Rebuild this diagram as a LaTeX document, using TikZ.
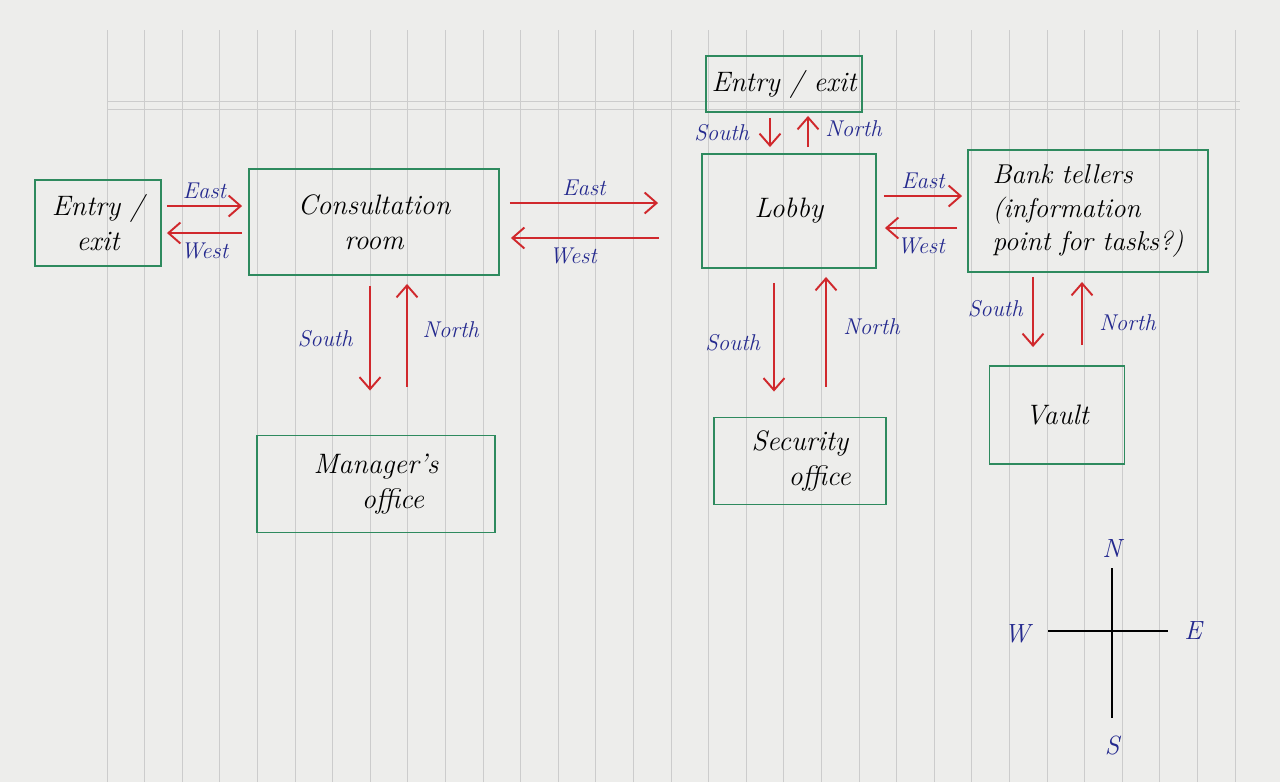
\documentclass[tikz,border=0pt]{standalone}
\usepackage{tikz}
\usetikzlibrary{arrows.meta}
\usetikzlibrary{calc}
\definecolor{boxgreen}{HTML}{2E8A5E}
\definecolor{arrred}{HTML}{D0282C}
\definecolor{inkblue}{HTML}{24298E}
\definecolor{paper}{HTML}{EDEDEB}
\tikzset{room/.style = {draw=boxgreen, line width=1.1pt, inner sep=0, align=center,
    font=\fontsize{16}{20}\selectfont\itshape}}
\tikzset{move/.style = {draw=arrred, line width=1.1pt, -{Straight Barb[length=2.4mm, width=4.2mm]}}}
\tikzset{dir/.style = {text=inkblue, font=\fontsize{13}{15}\selectfont\itshape}}
\tikzset{pt/.style = {text=inkblue, font=\fontsize{15}{18}\selectfont\itshape}}

\begin{document}
\begin{tikzpicture}[x=0.02cm, y=-0.02cm]
      \useasboundingbox (0,0) rectangle (1280,782);
      \fill [paper] (0,0) rectangle (1280,782);
      \foreach \i in {0,...,30}
        \draw [gray!40, line width=0.4pt] (107+37.6*\i,30) -- (107+37.6*\i,782);
      \draw [gray!40, line width=0.4pt] (107,101) -- (1240,101);
      \draw [gray!40, line width=0.4pt] (107,109) -- (1240,109);

      \node [room, minimum width=2.52cm, minimum height=1.72cm] (entryW) at (98,223) {Entry /\\exit};
      \node [room, minimum width=5cm, minimum height=2.12cm] (consult) at (374,222) {Consultation\\room};
      \node [room, minimum width=3.12cm, minimum height=1.12cm] (entryN) at (784,84) {Entry / exit};
      \node [room, minimum width=3.48cm, minimum height=2.28cm] (lobby) at (789,211) {Lobby};
      \node [room, minimum width=4.8cm, minimum height=2.44cm, align=left,
        font=\fontsize{15.5}{19}\selectfont\itshape] (bank) at (1088,211)
        {Bank tellers\\(information\\point for tasks?)};
      \node [room, minimum width=4.76cm, minimum height=1.94cm] (mgr) at (376,484) {Manager's\\\hspace*{1.2em}office};
      \node [room, minimum width=3.44cm, minimum height=1.74cm] (sec) at (800,461) {Security\\\hspace*{1.4em}office};
      \node [room, minimum width=2.7cm, minimum height=1.96cm] (vault) at (1057,415) {Vault};

      \draw [move] ($(entryW.east)+(5,-17)$) -- node [dir, above=0pt] {East} ($(entryW.east -| consult.west)+(-6,-17)$);
      \draw [move] ($(entryW.east -| consult.west)+(-6,10)$) -- node [dir, below=2pt] {West} ($(entryW.east)+(5,10)$);

      \draw [move] ($(consult.east)+(10,-19)$) -- node [dir, above=0pt] {East} ($(consult.east -| lobby.west)+(-43,-19)$);
      \draw [move] ($(consult.east -| lobby.west)+(-42,16)$) -- node [dir, below=2pt, pos=0.58] {West} ($(consult.east)+(11,16)$);

      \draw [move] ($(consult.south)+(-4,10)$) -- node [dir, left=6pt] {South} ($(consult.south |- mgr.north)+(-4,-44)$);
      \draw [move] ($(consult.south |- mgr.north)+(33,-48)$) -- node [dir, right=5pt, pos=0.55] {North} ($(consult.south)+(33,8)$);

      \draw [move] ($(entryN.south)+(-14,5)$) -- node [dir, left=8pt] {South} ($(entryN.south |- lobby.north)+(-14,-6)$);
      \draw [move] ($(entryN.south |- lobby.north)+(24,-6)$) -- node [dir, right=6pt, pos=0.6] {North} ($(entryN.south)+(24,3)$);

      \draw [move] ($(lobby.south)+(-15,14)$) -- node [dir, left=4pt, pos=0.55] {South} ($(lobby.south |- sec.north)+(-15,-25)$);
      \draw [move] ($(lobby.south |- sec.north)+(37,-30)$) -- node [dir, right=6pt, pos=0.55] {North} ($(lobby.south)+(37,8)$);

      \draw [move] ($(lobby.east)+(7,-15)$) -- node [dir, above=0pt] {East} ($(lobby.east -| bank.west)+(-5,-15)$);
      \draw [move] ($(lobby.east -| bank.west)+(-10,17)$) -- node [dir, below=2pt] {West} ($(lobby.east)+(8,17)$);

      \draw [move] ($(bank.south)+(-55,4)$) -- node [dir, left=2pt, pos=0.45] {South} ($(bank.south |- vault.north)+(-55,-18)$);
      \draw [move] ($(bank.south |- vault.north)+(-6,-20)$) -- node [dir, right=6pt, pos=0.35] {North} ($(bank.south)+(-6,9)$);

      \coordinate (cN) at (1112,568);
      \coordinate (cS) at (1112,718);
      \coordinate (cW) at (1048,631);
      \coordinate (cE) at (1168,631);
      \draw [line width=1pt] (cN) -- (cS);
      \draw [line width=1pt] (cW) -- (cE);
      \node [pt] (lN) at (1112,548) {N};
      \node [pt] (lS) at (1112,745) {S};
      \node [pt] (lW) at (1017,634) {W};
      \node [pt] (lE) at (1193,631) {E};
    \end{tikzpicture}
\end{document}
